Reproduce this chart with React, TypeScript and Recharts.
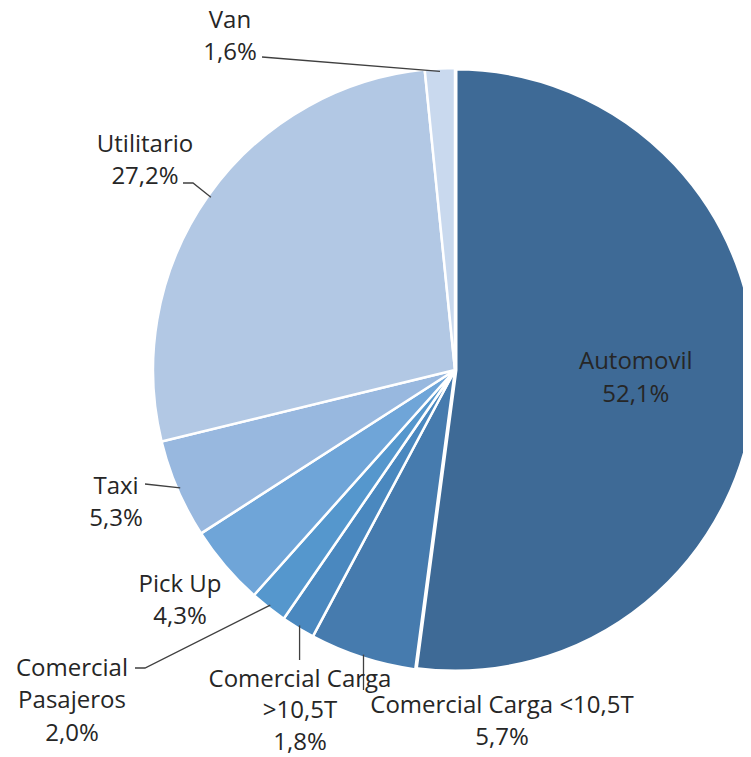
import { PieChart, Pie, Cell } from 'recharts';

const categories = [
  'Automovil',
  'Comercial Carga <10,5T',
  'Comercial Carga >10,5T',
  'Comercial Pasajeros',
  'Pick Up',
  'Taxi',
  'Utilitario',
  'Van',
];
const shares = [52.1, 5.7, 1.8, 2.0, 4.3, 5.3, 27.2, 1.6];
const labelLines = [
  ['Automovil', '52,1%'],
  ['Comercial Carga <10,5T', '5,7%'],
  ['Comercial Carga', '>10,5T', '1,8%'],
  ['Comercial', 'Pasajeros', '2,0%'],
  ['Pick Up', '4,3%'],
  ['Taxi', '5,3%'],
  ['Utilitario', '27,2%'],
  ['Van', '1,6%'],
];

const colors = ['#3E6A96', '#467BAE', '#4A88BF', '#5597CD', '#6FA5D8', '#98B8DF', '#B2C8E4', '#C9D9EE'];

// label placement relative to pie centre: text centre x, first line y, line gap, leader elbow points
const labelLayout: { tx: number; ty: number; gap?: number; pts: (number | null)[][]; inside?: boolean }[] = [
  { tx: 0, ty: 0, pts: [], inside: true },
  { tx: 47, ty: 333, pts: [[null, 320]] },
  { tx: -155, ty: 307, gap: 31.5, pts: [[null, 290]] },
  { tx: -383, ty: 296, pts: [[-310, 298], [-320, 298]] },
  { tx: -275, ty: 212, pts: [] },
  { tx: -339, ty: 114, pts: [[-310, 114]] },
  { tx: -310, ty: -228, pts: [[-262, -187], [-272, -187]] },
  { tx: -225, ty: -352, gap: 32, pts: [[-193, -313]] },
];

const data = categories.map((name, i) => ({ name, value: shares[i] }));

const RAD = Math.PI / 180;
const LINE_H = 32.5;
const FONT = "'Open Sans', sans-serif";
const FS = 24;

const renderLabel = (props: any) => {
  const { cx, cy, midAngle, outerRadius, index } = props;
  const lay = labelLayout[index];
  const lines = labelLines[index];
  if (lay.inside) {
    const r = outerRadius * 0.6;
    const x = cx + r * Math.cos(-midAngle * RAD);
    const y = cy + r * Math.sin(-midAngle * RAD);
    return (
      <g>
        {lines.map((t, k) => (
          <text key={k} x={x} y={y - 22 + k * 33} textAnchor="middle" dominantBaseline="central"
            fill="#262626" fontSize={FS} fontFamily={FONT}>{t}</text>
        ))}
      </g>
    );
  }
  const ex = cx + (outerRadius - 3) * Math.cos(-midAngle * RAD);
  const ey = cy + (outerRadius - 3) * Math.sin(-midAngle * RAD);
  const pts = [[ex, ey], ...lay.pts.map(([px, py]) => [px == null ? ex : cx + px, cy + (py as number)])];
  const gap = lay.gap ?? LINE_H;
  return (
    <g>
      {pts.length > 1 && (
        <polyline points={pts.map((p) => p.join(',')).join(' ')} fill="none" stroke="#404040" strokeWidth={1.3} />
      )}
      {lines.map((t, k) => (
        <text key={k} x={cx + lay.tx} y={cy + lay.ty + k * gap} textAnchor="middle" dominantBaseline="central"
          fill="#262626" fontSize={FS} fontFamily={FONT}>{t}</text>
      ))}
    </g>
  );
};

const App = () => {
  return (
    <div style={{ position: 'relative', top: -8, left: -8, width: 751, height: 757 }}>
      <PieChart width={751} height={757} margin={{ top: 0, right: 0, bottom: 0, left: 0 }}>
        <Pie
          data={data}
          dataKey="value"
          nameKey="name"
          cx={455}
          cy={370}
          outerRadius={302}
          startAngle={90}
          endAngle={-270}
          stroke="#ffffff"
          strokeWidth={2.5}
          label={renderLabel}
          labelLine={false}
          isAnimationActive={false}
        >
          {data.map((d, i) => (
            <Cell key={d.name} fill={colors[i]} strokeWidth={i === 0 ? 5 : 2.5} />
          ))}
        </Pie>
      </PieChart>
    </div>
  );
};

export default App;
